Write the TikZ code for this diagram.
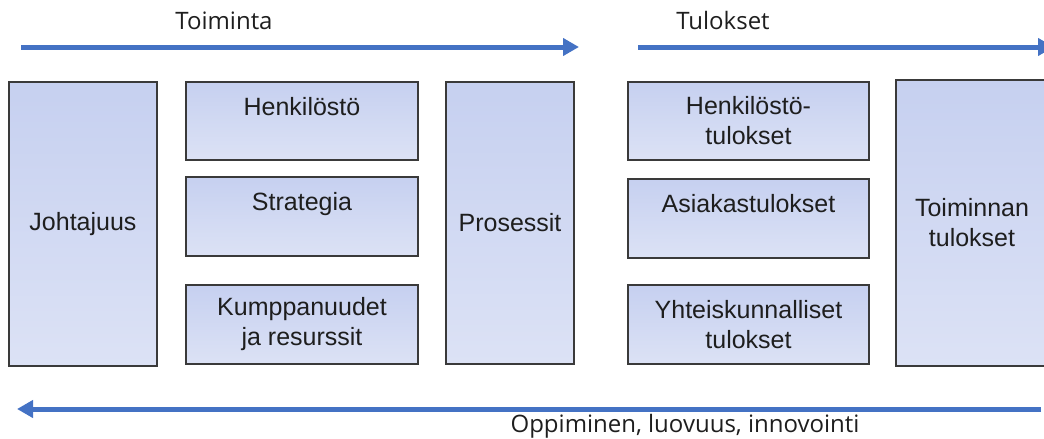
\documentclass[tikz,border=0pt]{standalone}
\usepackage{fontspec}
\setmainfont{Liberation Sans}
\newfontfamily\labelfont{Open Sans}
\definecolor{boxtop}{HTML}{C6D0F0}
\definecolor{boxbot}{HTML}{DCE2F5}
\definecolor{edgec}{HTML}{3A3A3A}
\definecolor{arrc}{HTML}{4472C4}
\definecolor{txtc}{HTML}{1E1E1E}
\usetikzlibrary{arrows.meta}
\tikzset{
  >={Triangle[length=16pt,width=17pt]},
  box/.style={draw=edgec,line width=1.4pt,top color=boxtop,bottom color=boxbot,inner sep=2pt,align=center,text=txtc,font=\fontsize{25}{30}\selectfont},
  flow/.style={->,line width=5pt,draw=arrc,fill=arrc},
  head/.style={font=\labelfont\fontsize{24}{27}\selectfont,text=txtc,anchor=base,inner sep=0pt},
}
\begin{document}
\begin{tikzpicture}[x=1pt,y=-1pt]
  \useasboundingbox (0,0) rectangle (1044,439);
  \clip (0,0) rectangle (1044,439);
  % toiminta
  \node[box,minimum width=148pt,minimum height=284pt] (johtajuus) at (83,224) {Johtajuus};
  \node[box,minimum width=232pt,minimum height=78pt] (henkilosto) at (302,121) {Henkilöstö\\\mbox{}};
  \node[box,minimum width=232pt,minimum height=79pt] (strategia) at (302,216.5) {Strategia\\\mbox{}};
  \node[box,minimum width=232pt,minimum height=79pt] (kumppanit) at (302,324.5) {Kumppanuudet\\ja resurssit};
  \node[box,minimum width=128pt,minimum height=282pt] (prosessit) at (510,223) {Prosessit};
  % tulokset
  \node[box,minimum width=241pt,minimum height=78pt] (htulokset) at (748.5,121) {Henkilöstö-\\tulokset};
  \node[box,minimum width=241pt,minimum height=79pt] (atulokset) at (748.5,218.5) {Asiakastulokset\\\mbox{}};
  \node[box,minimum width=241pt,minimum height=79pt] (ytulokset) at (748.5,324.5) {Yhteiskunnalliset\\tulokset};
  \node[box,minimum width=152pt,minimum height=286pt] (ttulokset) at (972,223) {Toiminnan\\tulokset};
  % nuolet
  \coordinate (toimA) at (21,47);
  \coordinate (toimB) at (579,47);
  \coordinate (tulA) at (638,47);
  \coordinate (tulB) at (1054,47);
  \coordinate (oppA) at (1041,409);
  \coordinate (oppB) at (17,409);
  \draw[flow] (toimA) -- (toimB);
  \draw[flow] (tulA) -- (tulB);
  \draw[flow] (oppA) -- (oppB);
  \node[head] (toiminta) at (224,29) {Toiminta};
  \node[head] (tulokset) at (723,29) {Tulokset};
  \node[head] (oppiminen) at (685,432) {Oppiminen, luovuus, innovointi};
\end{tikzpicture}
\end{document}
